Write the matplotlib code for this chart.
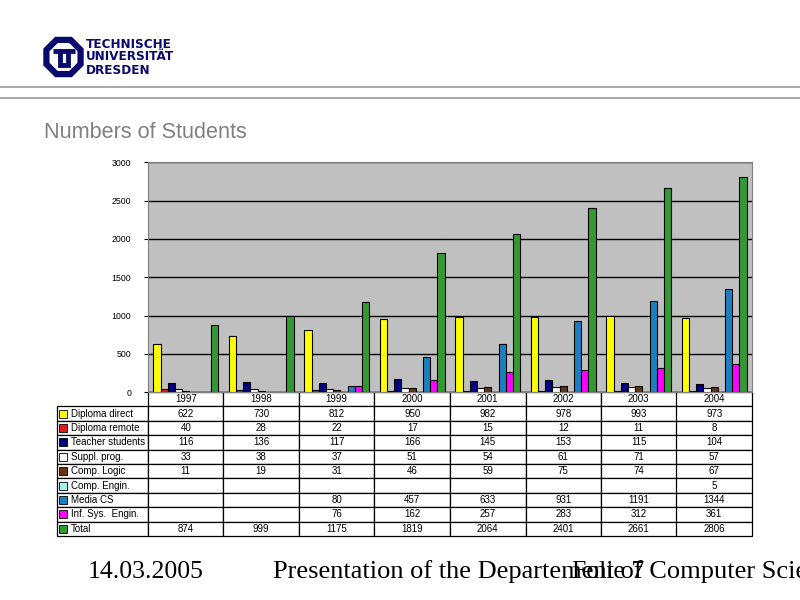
import numpy as np
import matplotlib
matplotlib.use("Agg")
import matplotlib.pyplot as plt
from matplotlib.table import Table
from matplotlib.patches import Polygon

# dados da tabela / do gráfico
years = ["1997", "1998", "1999", "2000", "2001", "2002", "2003", "2004"]
series = ["Diploma direct", "Diploma remote", "Teacher students", "Suppl. prog.",
          "Comp. Logic", "Comp. Engin.", "Media CS", "Inf. Sys.  Engin.", "Total"]
diploma_direct = [622, 730, 812, 950, 982, 978, 993, 973]
diploma_remote = [40, 28, 22, 17, 15, 12, 11, 8]
teacher_students = [116, 136, 117, 166, 145, 153, 115, 104]
suppl_prog = [33, 38, 37, 51, 54, 61, 71, 57]
comp_logic = [11, 19, 31, 46, 59, 75, 74, 67]
comp_engin = [None, None, None, None, None, None, None, 5]
media_cs = [None, None, 80, 457, 633, 931, 1191, 1344]
inf_sys = [None, None, 76, 162, 257, 283, 312, 361]
total = [874, 999, 1175, 1819, 2064, 2401, 2661, 2806]
values = [diploma_direct, diploma_remote, teacher_students, suppl_prog,
          comp_logic, comp_engin, media_cs, inf_sys, total]
colors = ["#FFFF00", "#E31A1C", "#000080", "#FFFFFF", "#663311",
          "#A0F4F0", "#1E7FC0", "#FF00FF", "#339933"]

W, H = 800, 600
fig = plt.figure(figsize=(8, 6), dpi=100)

# camada de fundo em coordenadas de pixel (logo, linhas)
bg = fig.add_axes([0, 0, 1, 1])
bg.set_xlim(0, W)
bg.set_ylim(H, 0)
bg.axis("off")
navy = "#0A0A6E"
bg.axhline(87, color="#999999", lw=1.2)
bg.axhline(98, color="#999999", lw=1.2)
ang = np.deg2rad(22.5 + 45 * np.arange(8))
cx, cy, r = 63.5, 57, 18.5
bg.add_patch(Polygon(np.c_[cx + r * np.cos(ang), cy + r * np.sin(ang)],
                     closed=True, fc="white", ec=navy, lw=4.5))
bg.plot([cx - 11, cx + 11], [cy - 6, cy - 6], color=navy, lw=3.5, solid_capstyle="butt")
bg.plot([cx - 4, cx - 4, cx + 4, cx + 4], [cy - 6, cy + 8, cy + 8, cy - 6],
        color=navy, lw=3.5, solid_joinstyle="miter")
for i, txt in enumerate(["TECHNISCHE", "UNIVERSITÄT", "DRESDEN"]):
    bg.text(86, 44 + 13 * i, txt, color=navy, fontsize=9.6, fontweight="heavy",
            family="DejaVu Sans", fontstretch="condensed", va="center", ha="left")
bg.text(44, 132, "Numbers of Students", color="#808080", fontsize=15.6,
        family="Liberation Sans", va="center", ha="left")
bg.text(88, 572, "14.03.2005", fontsize=18.5, family="Liberation Serif", va="center")
bg.text(273, 572, "Presentation of the Departement of Computer Science",
        fontsize=19, family="Liberation Serif", va="center")
bg.text(572, 572, "Folie 7", fontsize=18.5, family="Liberation Serif", va="center")

# gráfico de barras
x0, x1, ytop, ybot = 148, 752, 162.5, 392
ax = fig.add_axes([x0 / W, 1 - ybot / H, (x1 - x0) / W, (ybot - ytop) / H])
ax.set_facecolor("#C0C0C0")
n = len(series)
w = 1 / 10.5
x = np.arange(len(years))
for j, (vals, c) in enumerate(zip(values, colors)):
    v = np.array([np.nan if a is None else a for a in vals], dtype=float)
    ax.bar(x + (j - (n - 1) / 2) * w, v, width=w, color=c, edgecolor="black",
           linewidth=0.8, zorder=3)
ax.set_xlim(-0.5, len(years) - 0.5)
ax.set_ylim(0, 3000)
ax.set_yticks(np.arange(0, 3001, 500))
ax.set_yticklabels([str(t) for t in range(0, 3001, 500)], fontsize=6.3,
                   family="Liberation Sans")
ax.tick_params(axis="y", length=3, pad=9)
ax.set_xticks([])
ax.grid(axis="y", color="black", lw=1, zorder=1)
for s in ax.spines.values():
    s.set_color("#808080")

# tabela de dados abaixo do gráfico (bbox = só a grade de dados)
tx0, tbot = 57, 536
axw, axh = x1 - x0, ybot - ytop
tb = Table(ax, bbox=[0, -(tbot - ybot) / axh, 1, (tbot - ybot) / axh])
cw = 1 / len(years)
lw_ = (x0 - tx0) / axw
rh = 1 / (n + 1)
for k, yr in enumerate(years):
    tb.add_cell(0, k, cw, rh, text=yr, loc="center")
for i, (name, vals) in enumerate(zip(series, values)):
    lab = tb.add_cell(i + 1, -1, lw_, rh, text=name, loc="left")
    lab.PAD = 0.15
    for k, v in enumerate(vals):
        tb.add_cell(i + 1, k, cw, rh, text="" if v is None else str(v), loc="center")
tb.auto_set_font_size(False)
tb.set_fontsize(7)
for cell in tb.get_celld().values():
    cell.set_linewidth(0.9)
    cell.get_text().set_family("Liberation Sans")
ax.add_table(tb)

# quadradinhos da legenda
row_h = (tbot - ybot) / (n + 1)
for i, c in enumerate(colors):
    yy = -(row_h * (i + 1.5)) / axh
    ax.plot([(62.5 - x0) / axw], [yy], marker="s", ms=5.5, mfc=c, mec="black",
            mew=0.6, transform=ax.transAxes, clip_on=False, zorder=5)

fig.savefig("out.png", dpi=100)
